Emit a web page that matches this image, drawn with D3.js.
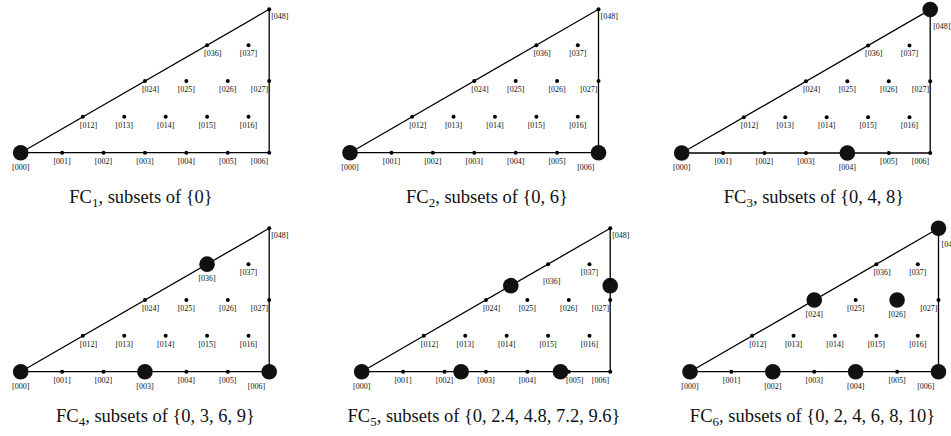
<!DOCTYPE html>
<html>
<head>
<meta charset="utf-8">
<script src="https://d3js.org/d3.v7.min.js"></script>
<style>
body { margin: 0; background: #fff; }
svg { display: block; font-family: "Liberation Serif", "Times New Roman", serif; }
.edge { fill: none; stroke: #000; stroke-width: 1.3; stroke-linejoin: miter; }
.label { font-size: 8px; fill: #111; }
.caption { font-size: 18.5px; fill: #111; }
</style>
</head>
<body>
<script>
var width = 951,
    height = 436;

// lattice points [0 a b]
var lattice = ["000", "001", "002", "003", "004", "005", "006",
               "012", "013", "014", "015", "016",
               "024", "025", "026", "027",
               "036", "037",
               "048"];

// highlighted subsets, as [a, b] of [0 a b]
var fc1 = [[0, 0]],
    fc2 = [[0, 0], [0, 6]],
    fc3 = [[0, 0], [0, 4], [4, 8]],
    fc4 = [[0, 0], [0, 3], [0, 6], [3, 6]],
    fc5 = [[0, 0], [0, 2.4], [0, 4.8], [2.4, 4.8], [2.4, 7.2]],
    fc6 = [[0, 0], [0, 2], [0, 4], [0, 6], [2, 4], [2, 6], [4, 8]];

var subsets = [fc1, fc2, fc3, fc4, fc5, fc6],
    names = ["1", "2", "3", "4", "5", "6"],
    sets = ["{0}", "{0, 6}", "{0, 4, 8}", "{0, 3, 6, 9}",
            "{0, 2.4, 4.8, 7.2, 9.6}", "{0, 2, 4, 6, 8, 10}"];

var corners = [[0, 0], [0, 6], [4, 8], [0, 0]];

// panel layout
var origins = [[20.7, 152.7], [350, 152.7], [681.7, 153],
               [20.7, 371.7], [361.7, 371.7], [690, 371.7]],
    captionX = [141, 487, 814, 155.5, 484, 812.5],
    captionDy = 50;

var x = d3.scaleLinear().domain([0, 6]).range([0, 248.5]),
    y = d3.scaleLinear().domain([0, 4]).range([0, -143.4]);

var rSmall = 2,
    rBig = 7.8;

var svg = d3.select("body").append("svg")
    .attr("width", width)
    .attr("height", height);

var line = d3.line()
    .x(function(d) { return x(d[1] - d[0] / 2); })
    .y(function(d) { return y(d[0]); });

var panel = svg.selectAll("g.panel")
    .data(subsets)
  .enter().append("g")
    .attr("class", "panel")
    .attr("transform", function(d, i) { return "translate(" + origins[i] + ")"; });

panel.append("path")
    .attr("class", "edge")
    .attr("d", line(corners));

panel.each(function(bigs, i) {
    var g = d3.select(this);

    var pts = lattice.map(function(s) {
        var a = +s[1], b = +s[2];
        return { name: s, a: a, b: b, big: isBig(bigs, a, b) };
    });

    g.selectAll("circle.small")
        .data(pts.filter(function(p) { return !p.big; }))
      .enter().append("circle")
        .attr("class", "small")
        .attr("cx", function(p) { return x(p.b - p.a / 2); })
        .attr("cy", function(p) { return y(p.a); })
        .attr("r", rSmall);

    g.selectAll("circle.big")
        .data(bigs)
      .enter().append("circle")
        .attr("class", "big")
        .attr("cx", function(d) { return x(d[1] - d[0] / 2); })
        .attr("cy", function(d) { return y(d[0]); })
        .attr("r", rBig)
        .attr("fill", "#111");

    g.selectAll("text.label")
        .data(pts)
      .enter().append("text")
        .attr("class", "label")
        .each(function(p) {
            var o = place(p, bigs);
            d3.select(this)
                .attr("x", x(p.b - p.a / 2) + o.dx)
                .attr("y", y(p.a) + o.dy)
                .attr("text-anchor", o.anchor)
                .text("[" + p.name + "]");
        });

    var cap = svg.append("text")
        .attr("class", "caption")
        .attr("x", captionX[i])
        .attr("y", origins[i][1] + captionDy)
        .attr("text-anchor", "middle");
    cap.append("tspan").text("FC");
    cap.append("tspan").attr("dy", 4).style("font-size", "13px").text(names[i]);
    cap.append("tspan").attr("dy", -4).text(", subsets of " + sets[i]);
});

function isBig(bigs, a, b) {
    return bigs.some(function(d) { return d[0] === a && d[1] === b; });
}

function place(p, bigs) {
    var a = p.a, b = p.b, o = { anchor: "middle", dx: 0, dy: p.big ? 17 : 11 };

    if (a === 4) { // top corner
        o.anchor = "start"; o.dx = p.big ? 3 : 2; o.dy = p.big ? 19 : 9.5;
    } else if (b - a / 2 === 6) { // right edge
        o.anchor = "end"; o.dx = p.big ? -4 : -1;
    } else if (a > 0 && b === 2 * a && !p.big) { // hypotenuse
        o.anchor = "start"; o.dx = -3;
        var below = bigs.some(function(d) {
            return d[1] === 2 * d[0] && d[0] > a - 1 && d[0] < a;
        });
        if (below) { o.dx = -5; o.dy = 19.5; }
    } else if (a === 0 && !p.big) { // base, keep clear of a close big dot
        bigs.forEach(function(d) {
            if (d[0] === 0 && Math.abs(d[1] - b) < 0.3) o.dx = d[1] < b ? 6 : -6;
        });
    }
    return o;
}
</script>
</body>
</html>
